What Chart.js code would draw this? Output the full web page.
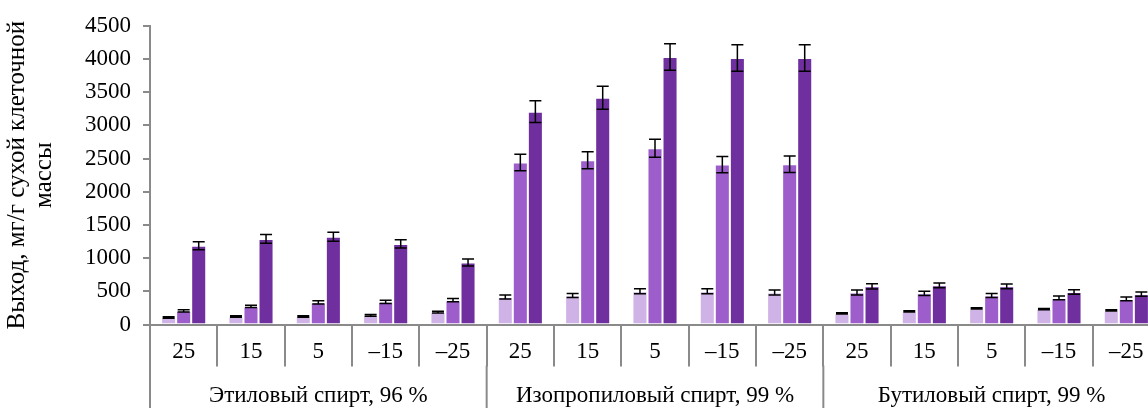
<!DOCTYPE html>
<html>
<head>
<meta charset="utf-8">
<script src="https://cdn.jsdelivr.net/npm/chart.js@4/dist/chart.umd.min.js"></script>
<style>
  html, body { margin: 0; padding: 0; background: #fff; overflow: hidden; }
  #wrap { width: 1160px; height: 408px; position: relative; }
</style>
</head>
<body>
<div id="wrap"><canvas id="chart"></canvas></div>
<script>
// temperatures inside each solvent group, and the solvent groups
var temps = ['25', '15', '5', '–15', '–25'];
var groups = ['Этиловый спирт, 96 %', 'Изопропиловый спирт, 99 %', 'Бутиловый спирт, 99 %'];
var labels = temps.concat(temps, temps);

// three series per temperature (light / medium / dark)
var light     = [105, 120, 120, 137, 187,   416, 437, 500, 500, 481,   167, 197, 242, 232, 212];
var lightErr  = [12, 12, 12, 12, 12,        30, 30, 37, 37, 37,        10, 10, 10, 10, 10];
var medium    = [206, 272, 332, 341, 366,   2440, 2474, 2654, 2410, 2414,   481, 470, 436, 401, 386];
var mediumErr = [17, 17, 25, 25, 25,        125, 127, 135, 122, 125,   37, 32, 30, 30, 27];
var dark      = [1188, 1289, 1323, 1214, 934,   3207, 3416, 4029, 4014, 4014,   575, 590, 575, 490, 456];
var darkErr   = [60, 65, 67, 62, 52,        162, 175, 200, 200, 200,   40, 37, 37, 35, 32];

var yTicks = { min: 0, max: 4500, step: 500 };

var axisColor = '#8a8a8a';
var serif = '"Liberation Serif", "Times New Roman", serif';

// error bars drawn through the y scale
var errorBars = {
  id: 'errorBars',
  afterDatasetsDraw: function(chart) {
    var ctx = chart.ctx;
    var y = chart.scales.y;
    ctx.save();
    ctx.strokeStyle = '#000';
    ctx.lineWidth = 1.5;
    chart.data.datasets.forEach(function(ds, i) {
      var meta = chart.getDatasetMeta(i);
      meta.data.forEach(function(bar, j) {
        var v = ds.data[j], e = ds.errors[j];
        var top = y.getPixelForValue(v + e);
        var bot = y.getPixelForValue(v - e);
        ctx.beginPath();
        ctx.moveTo(bar.x, top); ctx.lineTo(bar.x, bot);
        ctx.moveTo(bar.x - 6, top); ctx.lineTo(bar.x + 6, top);
        ctx.moveTo(bar.x - 6, bot); ctx.lineTo(bar.x + 6, bot);
        ctx.stroke();
      });
    });
    ctx.restore();
  }
};

// second level of the category axis: solvent names and long separators
var groupAxis = {
  id: 'groupAxis',
  afterDraw: function(chart) {
    var x = chart.scales.x;
    var ctx = chart.ctx;
    var step = x.getPixelForValue(1) - x.getPixelForValue(0);
    var top = x.top + 41;
    var bottom = chart.height;
    ctx.save();
    ctx.strokeStyle = axisColor;
    ctx.lineWidth = 2;
    ctx.fillStyle = '#000';
    ctx.font = '23px ' + serif;
    ctx.textAlign = 'center';
    ctx.textBaseline = 'alphabetic';
    groups.forEach(function(name, g) {
      var first = g * temps.length;
      var last = first + temps.length - 1;
      var left = x.getPixelForValue(first) - step / 2;
      var right = x.getPixelForValue(last) + step / 2;
      ctx.beginPath();
      ctx.moveTo(left, top);
      ctx.lineTo(left, bottom);
      ctx.stroke();
      ctx.fillText(name, (left + right) / 2, 402);
    });
    ctx.restore();
  }
};

function makeSet(data, errs, color) {
  return {
    data: data,
    errors: errs,
    backgroundColor: color,
    borderColor: 'rgba(255,255,255,0.25)',
    borderWidth: 1,
    categoryPercentage: 0.67,
    barPercentage: 1.0
  };
}

new Chart(document.getElementById('chart'), {
  type: 'bar',
  data: {
    labels: labels,
    datasets: [
      makeSet(light, lightErr, '#d0b3e6'),
      makeSet(medium, mediumErr, '#9d5ecc'),
      makeSet(dark, darkErr, '#6f2f9e')
    ]
  },
  options: {
    responsive: true,
    maintainAspectRatio: false,
    animation: false,
    layout: { padding: { top: 24, left: 0, right: 0, bottom: 0 } },
    plugins: {
      legend: { display: false },
      tooltip: { enabled: false }
    },
    scales: {
      x: {
        grid: { offset: true, drawOnChartArea: false, tickLength: 42, color: axisColor, lineWidth: 2 },
        border: { color: axisColor, width: 2 },
        ticks: { color: '#000', font: { family: serif, size: 23 }, padding: -28, maxRotation: 0, autoSkip: false },
        afterFit: function(scale) { scale.height = 83.5; }
      },
      y: {
        min: yTicks.min,
        max: yTicks.max,
        ticks: {
          stepSize: yTicks.step,
          color: '#000',
          font: { family: serif, size: 23 },
          padding: 12,
          callback: function(v) { return String(v); }
        },
        grid: { drawOnChartArea: false, tickLength: 7, color: axisColor, lineWidth: 2 },
        border: { color: axisColor, width: 2 },
        title: {
          display: true,
          text: ['Выход, мг/г сухой клеточной', 'массы'],
          color: '#000',
          font: { family: serif, size: 25, lineHeight: 1.08 },
          padding: { top: 4, bottom: 0 }
        },
        afterFit: function(scale) { scale.width = 150; }
      }
    }
  },
  plugins: [errorBars, groupAxis]
});
</script>
</body>
</html>
